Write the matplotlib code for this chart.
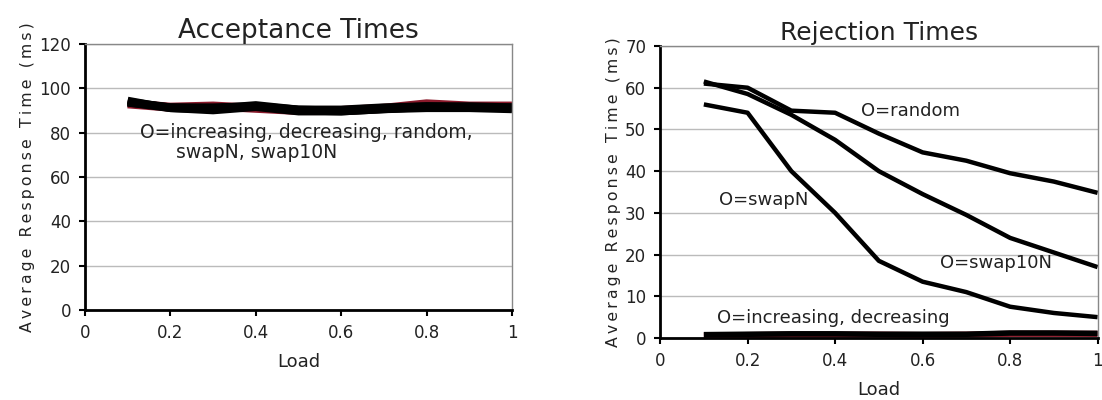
import matplotlib.pyplot as plt
import numpy as np

# Load values (x axis)
load = [0.1, 0.2, 0.3, 0.4, 0.5, 0.6, 0.7, 0.8, 0.9, 1.0]

# Acceptance times (ms), one series per ordering
acc_increasing = [93.5, 91.0, 90.5, 92.0, 90.0, 89.5, 90.5, 91.5, 91.5, 91.0]
acc_decreasing = [94.0, 91.5, 91.0, 92.5, 90.5, 90.0, 91.0, 92.0, 92.0, 91.5]
acc_random = [93.0, 91.5, 92.0, 91.0, 90.0, 90.0, 91.0, 93.0, 92.0, 92.0]
acc_swapN = [94.5, 91.0, 90.0, 91.5, 89.5, 89.5, 90.5, 91.0, 91.0, 90.5]
acc_swap10N = [93.5, 91.5, 91.5, 92.0, 90.5, 90.5, 91.5, 92.0, 91.5, 91.5]

# Rejection times (ms)
rej_random = [61.0, 60.0, 54.5, 54.0, 49.0, 44.5, 42.5, 39.5, 37.5, 34.8]
rej_swap10N = [61.5, 58.5, 53.5, 47.5, 40.0, 34.5, 29.5, 24.0, 20.5, 17.0]
rej_swapN = [56.0, 54.0, 40.0, 30.0, 18.5, 13.5, 11.0, 7.5, 6.0, 5.0]
rej_increasing = [0.8, 0.9, 1.0, 1.0, 0.9, 0.9, 0.9, 1.2, 1.2, 1.1]
rej_decreasing = [0.6, 0.7, 0.8, 0.8, 0.8, 0.7, 0.8, 1.0, 1.0, 1.0]

rej_series = [rej_random, rej_swap10N, rej_swapN]

txt_color = '#222222'
plt.rcParams['font.family'] = 'DejaVu Sans'

fig = plt.figure(figsize=(11.02, 4.0), dpi=100)
ax1 = fig.add_axes([0.0771, 0.225, 0.3875, 0.665])
ax2 = fig.add_axes([0.599, 0.155, 0.397, 0.73])

# spaced-out y label like the original
ylab = '\u2009'.join('Average Response Time (ms)')


def style_axes(ax, ymax, ystep, ylab_size):
    ax.set_xlim(0, 1)
    ax.set_ylim(0, ymax)
    ax.set_xticks([0, 0.2, 0.4, 0.6, 0.8, 1])
    ax.set_xticklabels(['0', '0.2', '0.4', '0.6', '0.8', '1'])
    ax.set_yticks(np.arange(0, ymax + 1, ystep))
    ax.yaxis.grid(True, color='#bbbbbb', linewidth=1.0)
    ax.set_axisbelow(True)
    for s in ['left', 'bottom']:
        ax.spines[s].set_color('black')
        ax.spines[s].set_linewidth(2.0)
    for s in ['top', 'right']:
        ax.spines[s].set_color('#888888')
        ax.spines[s].set_linewidth(1.0)
    ax.tick_params(direction='out', length=4, width=1.5, labelsize=12,
                   labelcolor=txt_color, pad=6)
    ax.set_xlabel('Load', fontsize=13, color=txt_color, labelpad=8)
    ax.set_ylabel(ylab, fontsize=ylab_size, color=txt_color, labelpad=3)


# Acceptance chart
style_axes(ax1, 120, 20, 11.3)
ax1.plot(load, acc_random, color='#8b1a2b', linewidth=6.5, solid_capstyle='butt')
for s in [acc_increasing, acc_decreasing, acc_swapN, acc_swap10N]:
    ax1.plot(load, s, color='black', linewidth=5.5, solid_capstyle='butt')
ax1.set_title('Acceptance Times', fontsize=19, color=txt_color, pad=4)
ax1.text(0.13, 75.5, 'O=increasing, decreasing, random,\n      swapN, swap10N',
         fontsize=13.5, color=txt_color, va='center', linespacing=1.05)

# Rejection chart
style_axes(ax2, 70, 10, 11.3)
ax2.plot(load, rej_decreasing, color='#8b1a2b', linewidth=4.5, solid_capstyle='butt')
ax2.plot(load, rej_increasing, color='black', linewidth=4, solid_capstyle='butt')
for s in rej_series:
    ax2.plot(load, s, color='black', linewidth=3.2, solid_capstyle='butt')
ax2.set_title('Rejection Times', fontsize=18, color=txt_color, pad=4)
ax2.text(0.46, 54.5, 'O=random', fontsize=13, color=txt_color, va='center')
ax2.text(0.135, 33, 'O=swapN', fontsize=13, color=txt_color, va='center')
ax2.text(0.64, 18, 'O=swap10N', fontsize=13, color=txt_color, va='center')
ax2.text(0.13, 4.8, 'O=increasing, decreasing', fontsize=13, color=txt_color, va='center')

fig.savefig('out.png', dpi=100)
